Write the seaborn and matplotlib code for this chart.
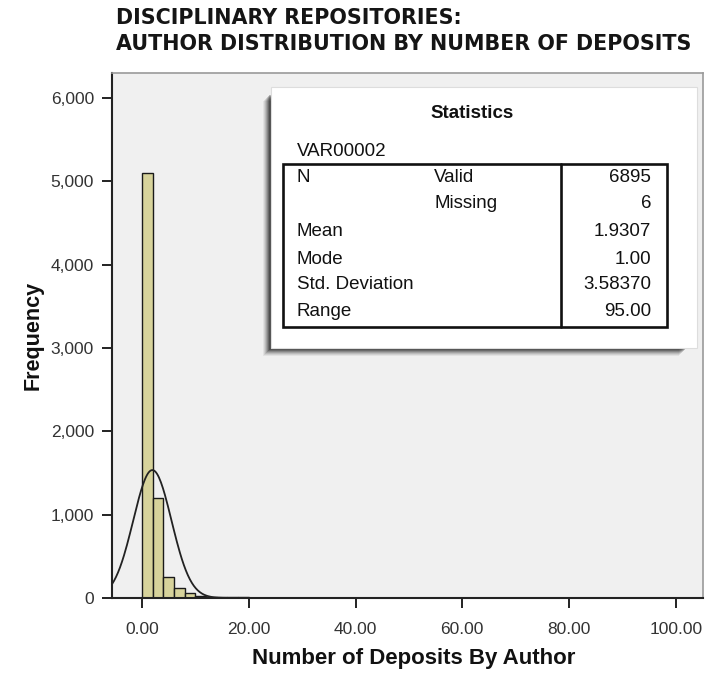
import numpy as np
import pandas as pd
import matplotlib
matplotlib.use("Agg")
import matplotlib.pyplot as plt
from matplotlib.patches import Rectangle
import seaborn as sns

# Histogram bins: width 2 deposits, from 0 to 96
bin_edges = list(range(0, 98, 2))
author_counts = [
    5095, 1204, 250, 118, 58, 26,
    18, 12, 9, 7, 6, 5, 4, 4, 3, 3,
    3, 2, 2, 2, 2, 1, 1, 2, 1, 1,
    1, 0, 1, 1, 1, 0, 1, 1, 2, 1,
    1, 0, 1, 1, 0, 1, 1, 0, 1, 0, 1, 1,
]

# Summary statistics table
stat_names = ["N", "", "Mean", "Mode", "Std. Deviation", "Range"]
stat_sub = ["Valid", "Missing", "", "", "", ""]
stat_values = ["6895", "6", "1.9307", "1.00", "3.58370", "95.00"]
n_valid = 6895
mean_val = 1.9307
sd_val = 3.58370

x_ticks = [0, 20, 40, 60, 80, 100]
y_ticks = [0, 1000, 2000, 3000, 4000, 5000, 6000]

sns.set_theme(style="white")
plt.rcParams["font.family"] = ["Liberation Sans", "DejaVu Sans"]

W, H = 711, 673
fig = plt.figure(figsize=(W / 100, H / 100), dpi=100)
fig.patch.set_facecolor("white")


def fx(px):
    return px / W


def fy(py):
    return 1 - py / H


ax = fig.add_axes([fx(112), fy(598), (703 - 112) / W, (598 - 73) / H])
ax.set_facecolor("#F0F0F0")

df = pd.DataFrame({"deposits": [e + 1 for e in bin_edges[:-1]], "authors": author_counts})
sns.histplot(data=df, x="deposits", weights="authors", bins=bin_edges,
             color="#D7D39B", alpha=1, edgecolor="#1a1a1a", linewidth=1.0,
             ax=ax, zorder=2)

# Fitted normal curve scaled to counts per bin
bw = bin_edges[1] - bin_edges[0]
xs = np.linspace(-6, 106, 600)
ys = n_valid * bw * np.exp(-0.5 * ((xs - mean_val) / sd_val) ** 2) / (sd_val * np.sqrt(2 * np.pi))
sns.lineplot(x=xs, y=ys, color="#222222", linewidth=1.3, ax=ax, zorder=3)

ax.set_xlim(-5.63, 105.1)
ax.set_ylim(0, 6300)
ax.set_xticks(x_ticks)
ax.set_xticklabels([f"{v:.2f}" for v in x_ticks])
ax.set_yticks(y_ticks)
ax.set_yticklabels([f"{v:,}" for v in y_ticks])
ax.tick_params(axis="both", direction="out", length=7, width=1.4, color="#222222",
               labelsize=12.5, labelcolor="#333333")
ax.tick_params(axis="x", pad=10)
ax.tick_params(axis="y", pad=6)
ax.tick_params(bottom=True, left=True)
for side in ["left", "bottom"]:
    ax.spines[side].set_color("#222222")
    ax.spines[side].set_linewidth(1.5)
for side in ["top", "right"]:
    ax.spines[side].set_color("#9a9a9a")
    ax.spines[side].set_linewidth(1.2)
ax.set_xlabel("Number of Deposits By Author", fontsize=16, fontweight="bold",
              color="#111111", labelpad=12)
ax.xaxis.set_label_coords(0.511, -0.095)
ax.set_ylabel("Frequency", fontsize=15.5, fontweight="bold", color="#111111", labelpad=5)

title_font = dict(fontsize=14.9, fontweight="bold", color="#151515",
                  family=["DejaVu Sans"], ha="left", va="baseline")
fig.text(fx(116), fy(24.5), "DISCIPLINARY REPOSITORIES:", **title_font)
fig.text(fx(116), fy(49.5), "AUTHOR DISTRIBUTION BY NUMBER OF DEPOSITS", **title_font)

# Statistics panel with soft drop shadow
px0, py0, px1, py1 = 270.7, 87, 696.7, 348
for i, a in enumerate([0.10, 0.14, 0.18, 0.24, 0.30, 0.38, 0.45]):
    off = 8 - i
    fig.patches.append(Rectangle((fx(px0 - off), fy(py1 + off)),
                                 (px1 - px0 - 10) / W, (py1 - py0 - 6) / H,
                                 transform=fig.transFigure, facecolor="#000000",
                                 alpha=a * 0.55, edgecolor="none", zorder=5))
fig.patches.append(Rectangle((fx(px0), fy(py1)), (px1 - px0) / W, (py1 - py0) / H,
                             transform=fig.transFigure, facecolor="white",
                             edgecolor="#dddddd", linewidth=0.8, zorder=6))

fig.text(fx(472), fy(113), "Statistics", fontsize=13.5, fontweight="bold",
         color="#111111", ha="center", va="center", zorder=7)
fig.text(fx(296.7), fy(151), "VAR00002", fontsize=13.5, color="#111111",
         ha="left", va="center", zorder=7)

# Inner table frame and divider
tx0, ty0, tx1, ty1 = 283.3, 164, 667.3, 326.7
fig.patches.append(Rectangle((fx(tx0), fy(ty1)), (tx1 - tx0) / W, (ty1 - ty0) / H,
                             transform=fig.transFigure, facecolor="none",
                             edgecolor="#111111", linewidth=1.9, zorder=7))
fig.lines.append(plt.Line2D([fx(561), fx(561)], [fy(ty0), fy(ty1)],
                            transform=fig.transFigure, color="#111111",
                            linewidth=1.9, zorder=7))

row_y = [177.7, 204, 231.7, 259, 284.5, 311.7]
for y, name, sub, val in zip(row_y, stat_names, stat_sub, stat_values):
    fig.text(fx(296.7), fy(y), name, fontsize=13.5, color="#111111",
             ha="left", va="center", zorder=8)
    fig.text(fx(434), fy(y), sub, fontsize=13.5, color="#111111",
             ha="left", va="center", zorder=8)
    fig.text(fx(651), fy(y), val, fontsize=13.5, color="#111111",
             ha="right", va="center", zorder=8)

fig.savefig("out.png", dpi=100, facecolor="white")
